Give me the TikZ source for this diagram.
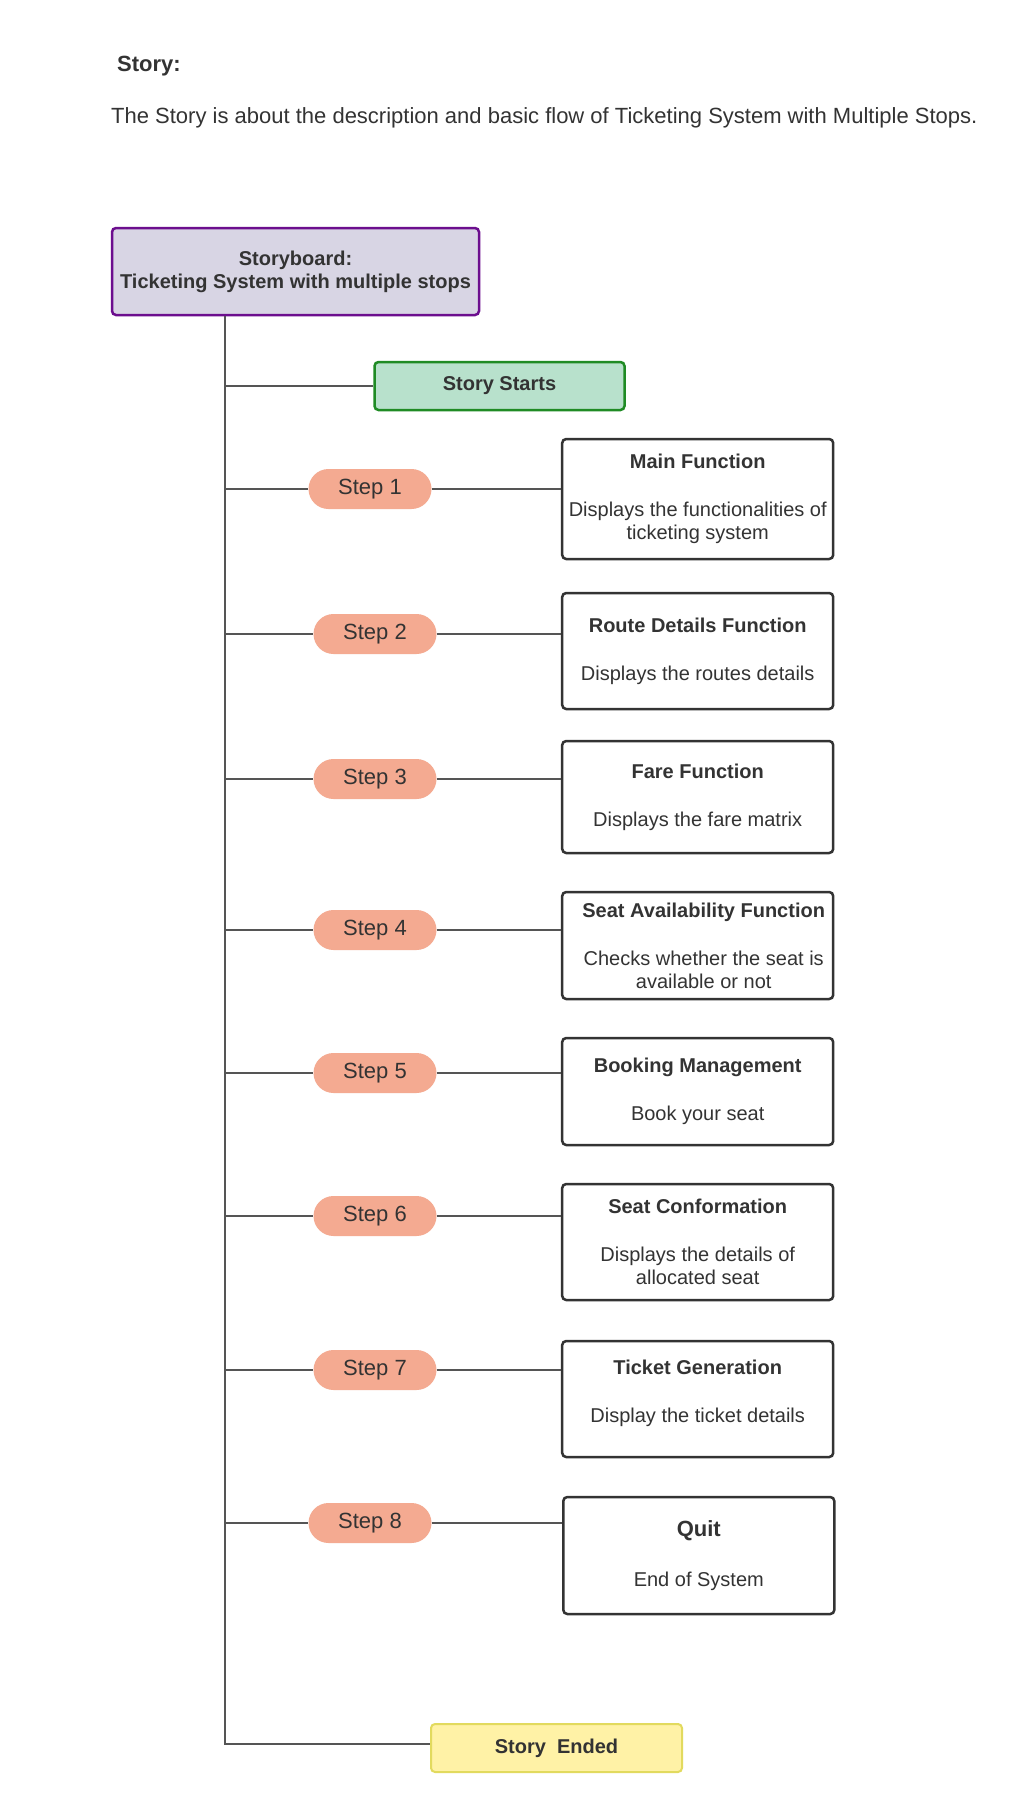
\documentclass[tikz,border=0pt]{standalone}
\usepackage{fontspec}
\setmainfont{Liberation Sans}
\usepackage{xcolor}
\usepackage{tikz}
\usetikzlibrary{calc}
\usetikzlibrary{positioning}

\definecolor{inkgray}{HTML}{333333}
\definecolor{linegray}{HTML}{555555}
\definecolor{pillfill}{HTML}{F4AA91}
\definecolor{boardfill}{HTML}{D8D5E4}
\definecolor{boardline}{HTML}{6C0E8E}
\definecolor{startfill}{HTML}{B8E1CC}
\definecolor{startline}{HTML}{1F8B24}
\definecolor{endfill}{HTML}{FFF2A6}
\definecolor{endline}{HTML}{E2DA5E}

\begin{document}
\begin{tikzpicture}[x=1pt,y=-1pt,
		stepnode/.style={fill=pillfill,rounded corners=20pt,minimum width=123pt,minimum height=40pt,inner sep=0pt,text=inkgray,font=\fontsize{22}{26}\selectfont},
		funcbox/.style={draw=inkgray,line width=2.5pt,rounded corners=4pt,fill=white,minimum width=271pt,inner sep=0pt,align=center,text=inkgray,font=\fontsize{20}{23}\selectfont},
		tagbox/.style={line width=2.5pt,rounded corners=4pt,inner sep=0pt,align=center,text=inkgray,font=\bfseries\fontsize{20}{23}\selectfont},
		branch/.style={draw=linegray,line width=1.6pt}]
		\useasboundingbox (0,0) rectangle (1035,1812);
		\fill[white] (0,0) rectangle (1035,1812);
		
		% heading
		\node[anchor=base west,inner sep=0pt,text=inkgray,font=\bfseries\fontsize{22}{26}\selectfont] (storyhead) at (117,71) {Story:};
		\node[anchor=base west,inner sep=0pt,text=inkgray,font=\fontsize{22}{26}\selectfont] (storytext) at (111,123) {The Story is about the description and basic flow of Ticketing System with Multiple Stops.};
		
		% start and end
		\node[tagbox,draw=boardline,fill=boardfill,minimum width=367pt,minimum height=87pt] (board) at (295.5,271.5) {Storyboard:\\Ticketing System with multiple stops};
		\node[tagbox,draw=startline,fill=startfill,minimum width=250pt,minimum height=48pt] (start) at (499.5,386) {Story Starts};
		\node[tagbox,draw=endline,line width=2pt,fill=endfill,minimum width=251pt,minimum height=48pt] (ended) at (556.5,1748) {Story\ \ Ended};
		
		% steps
		\node[stepnode] (s1) at (370,489) {Step 1};
		\node[stepnode] (s2) at (375,634) {Step 2};
		\node[stepnode] (s3) at (375,779) {Step 3};
		\node[stepnode] (s4) at (375,930) {Step 4};
		\node[stepnode] (s5) at (375,1073) {Step 5};
		\node[stepnode] (s6) at (375,1216) {Step 6};
		\node[stepnode] (s7) at (375,1370) {Step 7};
		\node[stepnode] (s8) at (370,1523) {Step 8};
		
		% functions
		\node[funcbox,minimum height=120pt] (f1) at (697.7,499) {\textbf{Main Function}\\[25pt]Displays the functionalities of\\ticketing system};
		\node[funcbox,minimum height=116pt] (f2) at (697.7,651) {\textbf{Route Details Function}\\[25pt]Displays the routes details};
		\node[funcbox,minimum height=112pt] (f3) at (697.7,797) {\textbf{Fare Function}\\[25pt]Displays the fare matrix};
		\node[funcbox,minimum height=107pt] (f4) at (697.7,945.5) {\hspace{12pt}\textbf{Seat Availability Function}\\[25pt]\hspace{12pt}Checks whether the seat is\\\hspace{12pt}available or not};
		\node[funcbox,minimum height=107pt] (f5) at (697.7,1091.5) {\textbf{Booking Management}\\[25pt]Book your seat};
		\node[funcbox,minimum height=116pt] (f6) at (697.7,1242) {\textbf{Seat Conformation}\\[25pt]Displays the details of\\allocated seat};
		\node[funcbox,minimum height=116pt] (f7) at (697.7,1399) {\textbf{Ticket Generation}\\[25pt]Display the ticket details\\[-7pt]\mbox{}};
		\node[funcbox,minimum height=117pt] (f8) at (698.8,1555.5) {{\fontsize{22}{26}\selectfont\textbf{Quit}}\\[27pt]End of System};
		
		% connectors
		\coordinate (spine) at ($(board.south west)+(114,0)$);
		\coordinate (endjoint) at ($(ended.west)+(0,-4)$);
		\draw[branch] (spine) -- (spine |- endjoint) -- (endjoint);
		\draw[branch] (spine |- start.west) -- (start.west);
		\draw[branch] (spine |- s1.west) -- (s1.west);
		\draw[branch] (spine |- s2.west) -- (s2.west);
		\draw[branch] (spine |- s3.west) -- (s3.west);
		\draw[branch] (spine |- s4.west) -- (s4.west);
		\draw[branch] (spine |- s5.west) -- (s5.west);
		\draw[branch] (spine |- s6.west) -- (s6.west);
		\draw[branch] (spine |- s7.west) -- (s7.west);
		\draw[branch] (spine |- s8.west) -- (s8.west);
		\draw[branch] (s1.east) -- (s1.east -| f1.west);
		\draw[branch] (s2.east) -- (s2.east -| f2.west);
		\draw[branch] (s3.east) -- (s3.east -| f3.west);
		\draw[branch] (s4.east) -- (s4.east -| f4.west);
		\draw[branch] (s5.east) -- (s5.east -| f5.west);
		\draw[branch] (s6.east) -- (s6.east -| f6.west);
		\draw[branch] (s7.east) -- (s7.east -| f7.west);
		\draw[branch] (s8.east) -- (s8.east -| f8.west);
	\end{tikzpicture}
\end{document}
